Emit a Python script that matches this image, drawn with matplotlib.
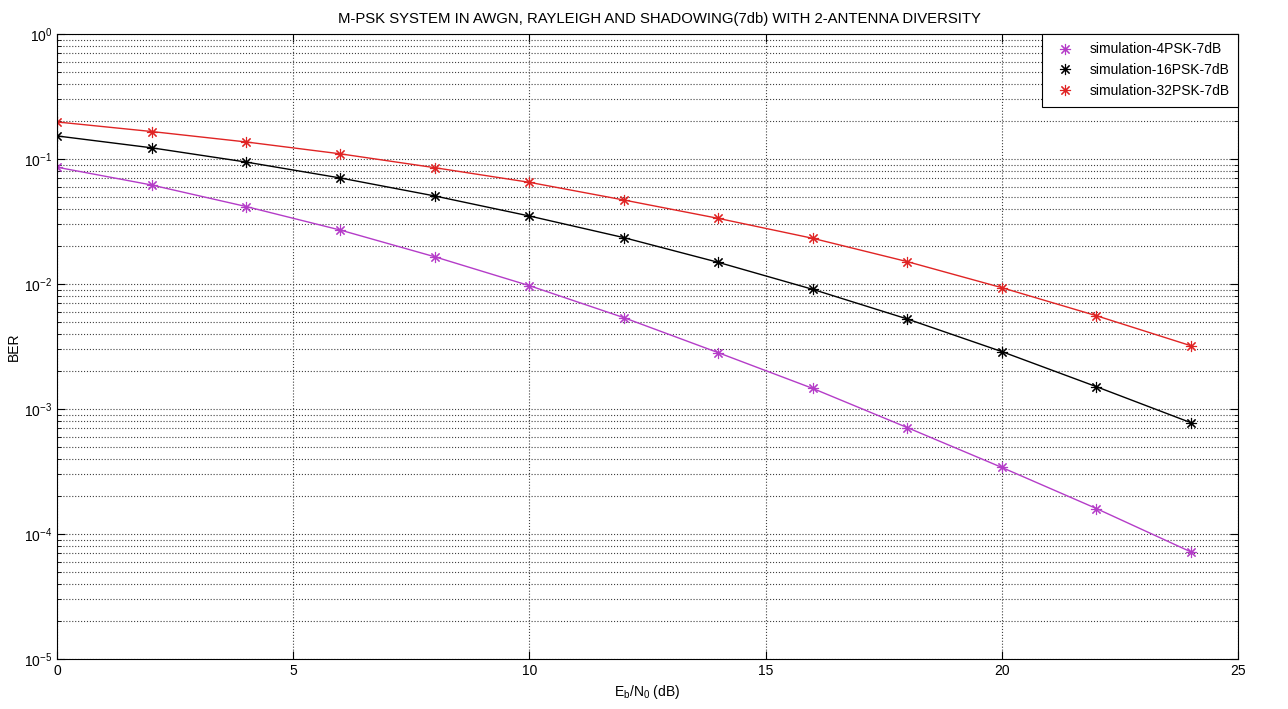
"""
M-PSK BER curves in AWGN, Rayleigh and shadowing with 2-antenna diversity
"""
import matplotlib
matplotlib.use("Agg")
import matplotlib.pyplot as plt
from matplotlib.ticker import LogLocator, NullFormatter

plt.rcParams['font.family'] = ['Liberation Sans', 'DejaVu Sans']
plt.rcParams['mathtext.fontset'] = 'custom'
plt.rcParams['mathtext.rm'] = 'Liberation Sans'

EBN0_DB = [0, 2, 4, 6, 8, 10, 12, 14, 16, 18, 20, 22, 24]
BER_4PSK = [0.086, 0.062, 0.0417, 0.027, 0.0165, 0.0097, 0.00538, 0.00282,
            0.00146, 0.00071, 0.000341, 0.00016, 7.2e-5]
BER_16PSK = [0.153, 0.123, 0.0946, 0.0705, 0.0506, 0.035, 0.0235, 0.0149,
             0.00906, 0.00525, 0.00288, 0.00151, 0.000778]
BER_32PSK = [0.198, 0.166, 0.137, 0.11, 0.0852, 0.0651, 0.047, 0.0335,
             0.0232, 0.0151, 0.00935, 0.00558, 0.00321]

SERIES = [
    (BER_4PSK, '#b43cc8', 'simulation-4PSK-7dB'),
    (BER_16PSK, 'black', 'simulation-16PSK-7dB'),
    (BER_32PSK, '#e02424', 'simulation-32PSK-7dB'),
]

# matlab style '*' marker: plus and cross on top of each other
ASTERISK = (8, 2, 0)

fig = plt.figure(figsize=(12.88, 7.09), dpi=100)
ax = fig.add_axes([0.0443, 0.0705, 0.9169, 0.8815])

for ber, color, label in SERIES:
    ax.semilogy(EBN0_DB, ber, '-', color=color, linewidth=1.0)
    ax.semilogy(EBN0_DB, ber, marker=ASTERISK, color=color, markersize=8,
                markeredgewidth=0.8, linestyle='none', label=label)

ax.set_xlim(0, 25)
ax.set_ylim(1e-5, 1)
ax.set_xticks([0, 5, 10, 15, 20, 25])
ax.yaxis.set_major_locator(LogLocator(base=10, numticks=10))
ax.yaxis.set_minor_locator(LogLocator(base=10, subs=range(2, 10), numticks=10))
ax.yaxis.set_minor_formatter(NullFormatter())

ax.grid(True, which='major', linestyle=':', color='#404040', linewidth=0.8)
ax.grid(True, which='minor', axis='y', linestyle=':', color='#404040', linewidth=0.8)
ax.tick_params(which='both', direction='in', top=True, right=True, labelsize=10)
ax.tick_params(which='major', length=6)
ax.tick_params(which='minor', length=3)
for spine in ax.spines.values():
    spine.set_linewidth(0.8)

ax.set_title('M-PSK SYSTEM IN AWGN, RAYLEIGH AND SHADOWING(7db) WITH 2-ANTENNA DIVERSITY',
             fontsize=10.7, pad=8, x=0.51)
ax.set_xlabel(r'E$_\mathrm{b}$/N$_\mathrm{0}$ (dB)', fontsize=10)
ax.set_ylabel('BER', fontsize=10, labelpad=2)

leg = ax.legend(loc='upper right', fontsize=10, fancybox=False, framealpha=1,
                edgecolor='black', borderaxespad=0.0, handletextpad=0.8,
                borderpad=0.6, labelspacing=0.5)
leg.get_frame().set_linewidth(0.8)

fig.savefig('out.png', dpi=100)
